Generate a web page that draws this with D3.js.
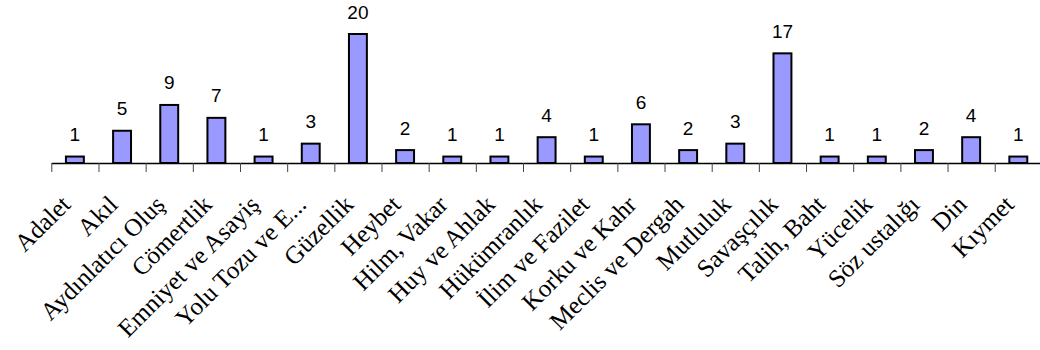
<!DOCTYPE html>
<html>
<head>
<meta charset="utf-8">
<script src="https://cdn.jsdelivr.net/npm/d3@7"></script>
<style>
  html, body { margin: 0; padding: 0; background: #fff; }
  svg { display: block; }
</style>
</head>
<body>
<svg id="chart" width="1040" height="350"></svg>
<script>
// Category names (x axis)
const categories = [
  "Adalet", "Akıl", "Aydınlatıcı Oluş", "Cömertlik", "Emniyet ve Asayiş",
  "Yolu Tozu ve E...", "Güzellik", "Heybet", "Hilm, Vakar", "Huy ve Ahlak",
  "Hükümranlık", "İlim ve Fazilet", "Korku ve Kahr", "Meclis ve Dergah",
  "Mutluluk", "Savaşçılık", "Talih, Baht", "Yücelik", "Söz ustalığı",
  "Din", "Kıymet"
];

// Count per category
const counts = [1, 5, 9, 7, 1, 3, 20, 2, 1, 1, 4, 1, 6, 2, 3, 17, 1, 1, 2, 4, 1];

const svg = d3.select("#chart");

const plot = { left: 51.3, right: 1041.9, baseline: 163, top: 34 };

const x = d3.scaleBand()
  .domain(categories)
  .range([plot.left, plot.right])
  .padding(0);

// Category boundaries for the tick marks
const xEdge = d3.scaleLinear()
  .domain([0, categories.length])
  .range([plot.left, plot.right]);

const y = d3.scaleLinear()
  .domain([0, 20])
  .range([plot.baseline, plot.top]);

const barW = x.bandwidth() * 0.38;

// Bars
svg.append("g")
  .selectAll("rect")
  .data(categories)
  .join("rect")
  .attr("x", (d) => x(d) + (x.bandwidth() - barW) / 2)
  .attr("y", (d, i) => y(counts[i]))
  .attr("width", barW)
  .attr("height", (d, i) => y(0) - y(counts[i]))
  .attr("fill", "#9999ff")
  .attr("stroke", "#000")
  .attr("stroke-width", 2);

// Axis with ticks at category boundaries
const axis = d3.axisBottom(xEdge)
  .tickValues(d3.range(categories.length + 1))
  .tickFormat("")
  .tickSizeInner(9)
  .tickSizeOuter(0);

const gAxis = svg.append("g")
  .attr("transform", `translate(0,${plot.baseline})`)
  .call(axis);
gAxis.select(".domain").attr("stroke", "#000").attr("stroke-width", 1.5);
gAxis.selectAll(".tick line").attr("stroke", "#444").attr("stroke-width", 1);

// Value labels above bars
svg.append("g")
  .selectAll("text")
  .data(categories)
  .join("text")
  .attr("x", (d) => x(d) + x.bandwidth() / 2)
  .attr("y", (d, i) => y(counts[i]) - 15.5)
  .attr("text-anchor", "middle")
  .attr("font-family", "'Liberation Sans', Arial, sans-serif")
  .attr("font-size", 19)
  .attr("fill", "#000")
  .text((d, i) => counts[i]);

// Rotated category labels
svg.append("g")
  .selectAll("text")
  .data(categories)
  .join("text")
  .attr("transform", (d) => {
    const cx = x(d) + x.bandwidth() / 2 - 3;
    const cy = plot.baseline + 43;
    return `translate(${cx},${cy}) rotate(-45)`;
  })
  .attr("text-anchor", "end")
  .attr("font-family", "'Liberation Serif', 'Times New Roman', serif")
  .attr("font-size", 25)
  .attr("fill", "#000")
  .text((d) => d);
</script>
</body>
</html>
